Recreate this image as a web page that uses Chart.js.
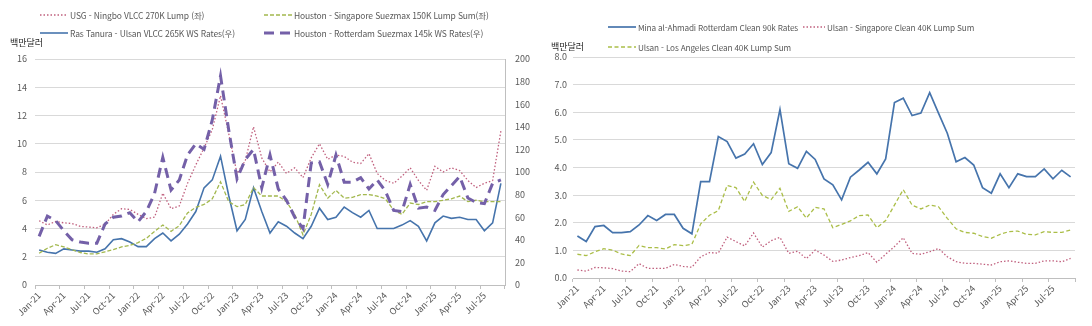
<!DOCTYPE html>
<html lang="ko">
<head>
<meta charset="utf-8">
<script src="https://cdn.jsdelivr.net/npm/chart.js@4.4.1/dist/chart.umd.min.js"></script>
<style>
  body { margin: 0; background: #fff; font-family: 'Noto Sans CJK KR', sans-serif; }
  #wrap { position: relative; width: 1092px; height: 326px; overflow: hidden; }
  canvas { position: absolute; top: 0; }
  .unit { position: absolute; font-size: 9px; color: #262626; line-height: 10px; }
  .lg { position: absolute; font-size: 8.5px; letter-spacing: -0.15px; color: #595959; white-space: nowrap; display: flex; align-items: center; line-height: 10px; }
  .lg.sm { font-size: 8.2px; }
  .lg svg { margin-right: 2px; }
</style>
</head>
<body>
<div id="wrap">
  <canvas id="left" width="545" height="326" style="left:0"></canvas>
  <canvas id="right" width="547" height="326" style="left:545px"></canvas>
</div>
<script>
// 월별 카테고리 (2021.1 ~ 2025.9)
const months = [
  'Jan-21','Feb-21','Mar-21','Apr-21','May-21','Jun-21','Jul-21','Aug-21','Sep-21','Oct-21','Nov-21','Dec-21',
  'Jan-22','Feb-22','Mar-22','Apr-22','May-22','Jun-22','Jul-22','Aug-22','Sep-22','Oct-22','Nov-22','Dec-22',
  'Jan-23','Feb-23','Mar-23','Apr-23','May-23','Jun-23','Jul-23','Aug-23','Sep-23','Oct-23','Nov-23','Dec-23',
  'Jan-24','Feb-24','Mar-24','Apr-24','May-24','Jun-24','Jul-24','Aug-24','Sep-24','Oct-24','Nov-24','Dec-24',
  'Jan-25','Feb-25','Mar-25','Apr-25','May-25','Jun-25','Jul-25','Aug-25','Sep-25'
];

// 원유선 운임 (좌: 백만달러, 우: WS)
const usgNingbo = [4.55,4.25,4.5,4.4,4.35,4.15,4.1,4.05,4.3,5.0, 5.4,5.35,5.0,4.7,4.8,6.5,5.4,5.6,7.2,8.5,
  9.7,11.0,13.4,10.7,7.9,8.8,11.2,9.0,8.0,8.7, 7.9,8.3,7.6,9.0,10.0,8.9,9.2,9.1,8.7,8.6,
  9.3,7.9,7.4,7.2,7.7,8.3,7.4,6.7,8.4,8.0, 8.3,8.1,7.4,6.9,7.2,7.4,10.9];
const houstonSingapore = [2.25,2.6,2.85,2.7,2.5,2.3,2.2,2.2,2.35,2.5, 2.7,2.8,3.0,3.3,3.8,4.25,3.8,4.2,5.1,5.5,
  5.7,6.1,7.3,5.9,5.55,5.7,6.9,6.3,6.3,6.3, 5.9,5.0,3.55,5.0,7.1,6.15,6.7,6.15,6.2,6.4,
  6.4,6.3,6.1,5.3,5.0,5.8,5.7,5.9,5.9,6.0, 6.1,6.3,5.9,6.0,5.9,5.9,5.9];
const rasTanura = [31,29,28,32,31,30,30,29,32,40, 41,38,34,34,41,46,39,45,54,65,
  86,93,114,79,48,58,86,65,46,56, 52,46,41,52,68,58,60,69,64,60,
  66,50,50,50,53,57,52,39,55,61, 59,60,58,58,48,55,90];
const houstonRotterdam = [43,61,57,48,40,38,37,37,54,60, 61,64,56,65,81,113,84,93,115,125,
  120,146,185,137,94,111,120,86,115,85, 75,60,50,108,109,89,115,91,91,95,
  85,93,83,66,65,89,68,69,66,80, 88,96,77,73,72,90,93];

// 석유제품선 운임 (백만달러)
const minaRotterdam = [1.52,1.32,1.86,1.9,1.64,1.64,1.68,1.92,2.26,2.08, 2.3,2.3,1.8,1.6,3.49,3.49,5.12,4.94,4.34,4.49,
  4.86,4.11,4.54,6.1,4.14,3.97,4.58,4.29,3.59,3.37, 2.83,3.65,3.91,4.19,3.77,4.31,6.35,6.51,5.88,5.97,
  6.71,5.97,5.24,4.21,4.36,4.09,3.27,3.07,3.77,3.27, 3.77,3.67,3.67,3.95,3.59,3.9,3.66];
const ulsanSingapore = [0.29,0.25,0.38,0.37,0.34,0.25,0.23,0.52,0.35,0.35, 0.35,0.49,0.42,0.39,0.77,0.92,0.9,1.48,1.32,1.16,
  1.63,1.12,1.35,1.47,0.89,0.97,0.7,1.01,0.83,0.6, 0.65,0.74,0.81,0.92,0.57,0.86,1.14,1.46,0.89,0.86,
  0.95,1.07,0.77,0.59,0.53,0.53,0.5,0.47,0.59,0.62, 0.57,0.53,0.53,0.62,0.62,0.59,0.71];
const ulsanLosAngeles = [0.86,0.81,0.95,1.06,1.01,0.87,0.81,1.18,1.1,1.1, 1.05,1.21,1.17,1.22,1.96,2.27,2.44,3.35,3.27,2.77,
  3.47,2.99,2.84,3.25,2.41,2.58,2.17,2.56,2.5,1.82, 1.94,2.07,2.26,2.28,1.82,2.08,2.64,3.2,2.64,2.5,
  2.64,2.58,2.16,1.78,1.65,1.62,1.5,1.44,1.58,1.68, 1.7,1.58,1.56,1.68,1.65,1.65,1.74];

const C = {
  pink: '#C0607E', green: '#A3B84E', lime: '#ABBE48', blue: '#4674AC', purple: '#7460A8',
  grid: '#D9D9D9', axis: '#BFBFBF', text: '#595959'
};
const FONT = { family: "'Noto Sans CJK KR', sans-serif", size: 9 };

Chart.defaults.font = FONT;
Chart.defaults.color = C.text;

function line(label, data, color, width, dash, axis) {
  return {
    label, data, yAxisID: axis || 'y',
    borderColor: color, backgroundColor: color,
    borderWidth: width, borderDash: dash || [],
    pointRadius: 0, tension: 0, fill: false, borderCapStyle: 'butt'
  };
}

// 분기마다 눈금 표시
function xAxis(height) {
  return {
    type: 'category', offset: true,
    grid: {
      display: true, drawOnChartArea: false, drawTicks: true, tickLength: 4, offset: true,
      color: c => (c.index === undefined || c.index % 3 === 0) ? C.axis : 'rgba(0,0,0,0)'
    },
    border: { display: true, color: C.axis },
    ticks: {
      autoSkip: false, minRotation: 45, maxRotation: 45, padding: 1,
      callback: (v, i) => i % 3 === 0 ? months[i] : ''
    },
    afterFit: s => { s.height = height; }
  };
}

function baseOptions(scales, pad) {
  return {
    responsive: false, animation: false, devicePixelRatio: 1,
    layout: { padding: pad },
    plugins: { legend: { display: false }, tooltip: { enabled: false } },
    scales
  };
}

new Chart(document.getElementById('left'), {
  type: 'line',
  data: {
    labels: months,
    datasets: [
      line('Houston - Rotterdam Suezmax 145k WS Rates(우)', houstonRotterdam, C.purple, 3, [10, 6], 'y1'),
      line('USG - Ningbo VLCC 270K Lump (좌)', usgNingbo, C.pink, 1.3, [1.5, 2]),
      line('Houston - Singapore Suezmax 150K Lump Sum(좌)', houstonSingapore, C.green, 1.3, [4, 2]),
      line('Ras Tanura - Ulsan VLCC 265K WS Rates(우)', rasTanura, C.blue, 1.6, [], 'y1')
    ]
  },
  options: baseOptions({
    x: xAxis(41),
    y: {
      position: 'left', min: 0, max: 16,
      ticks: { stepSize: 2, padding: 8 },
      grid: { color: C.grid, drawTicks: false },
      border: { display: false },
      afterFit: s => { s.width = 35; }
    },
    y1: {
      position: 'right', min: 0, max: 200,
      ticks: { stepSize: 20, padding: 10 },
      grid: { drawOnChartArea: false, drawTicks: false },
      border: { display: true, color: C.axis },
      afterFit: s => { s.width = 40; }
    }
  }, { top: 59, left: 0, right: 0, bottom: 0 })
});

new Chart(document.getElementById('right'), {
  type: 'line',
  data: {
    labels: months,
    datasets: [
      line('Mina al-Ahmadi Rotterdam Clean 90k Rates', minaRotterdam, C.blue, 1.7),
      line('Ulsan - Singapore Clean 40K Lump Sum', ulsanSingapore, C.pink, 1.3, [1.5, 2]),
      line('Ulsan - Los Angeles Clean 40K Lump Sum', ulsanLosAngeles, C.lime, 1.3, [4, 2.5])
    ]
  },
  options: baseOptions({
    x: xAxis(48),
    y: {
      position: 'left', min: 0, max: 8,
      ticks: { stepSize: 1, padding: 6, callback: v => v.toFixed(1) },
      grid: { color: C.grid, drawTicks: false },
      border: { display: false },
      afterFit: s => { s.width = 28; }
    }
  }, { top: 57, left: 0, right: 17, bottom: 0 })
});

// 범례와 단위 표시
const wrap = document.getElementById('wrap');
function legend(x, y, text, color, width, dash, cls, len) {
  const w = len || 28;
  const el = document.createElement('div');
  el.className = 'lg' + (cls ? ' ' + cls : '');
  el.style.left = x + 'px';
  el.style.top = (y - 5) + 'px';
  el.innerHTML = '<svg width="' + w + '" height="6"><line x1="0" y1="3" x2="' + w + '" y2="3" stroke="' + color +
    '" stroke-width="' + width + '" stroke-dasharray="' + (dash || 'none') + '"/></svg>';
  el.appendChild(document.createTextNode(text));
  wrap.appendChild(el);
}
function unit(x, y) {
  const el = document.createElement('div');
  el.className = 'unit';
  el.style.left = x + 'px';
  el.style.top = (y - 5) + 'px';
  el.textContent = '백만달러';
  wrap.appendChild(el);
}

legend(40, 15, 'USG - Ningbo VLCC 270K Lump (좌)', C.pink, 1.3, '1.5 2');
legend(264, 15, 'Houston - Singapore Suezmax 150K Lump Sum(좌)', C.green, 1.3, '4 2');
legend(40, 33, 'Ras Tanura - Ulsan VLCC 265K WS Rates(우)', C.blue, 1.6);
legend(264, 33, 'Houston - Rotterdam Suezmax 145k WS Rates(우)', C.purple, 3, '10 6');
unit(10, 43);

legend(608, 27, 'Mina al-Ahmadi Rotterdam Clean 90k Rates', C.blue, 1.7, null, 'sm');
legend(803, 27, 'Ulsan - Singapore Clean 40K Lump Sum', C.pink, 1.3, '1.5 2', 'sm', 22);
legend(608, 47, 'Ulsan - Los Angeles Clean 40K Lump Sum', C.lime, 1.3, '4 2.5', 'sm');
unit(551, 47);
</script>
</body>
</html>
